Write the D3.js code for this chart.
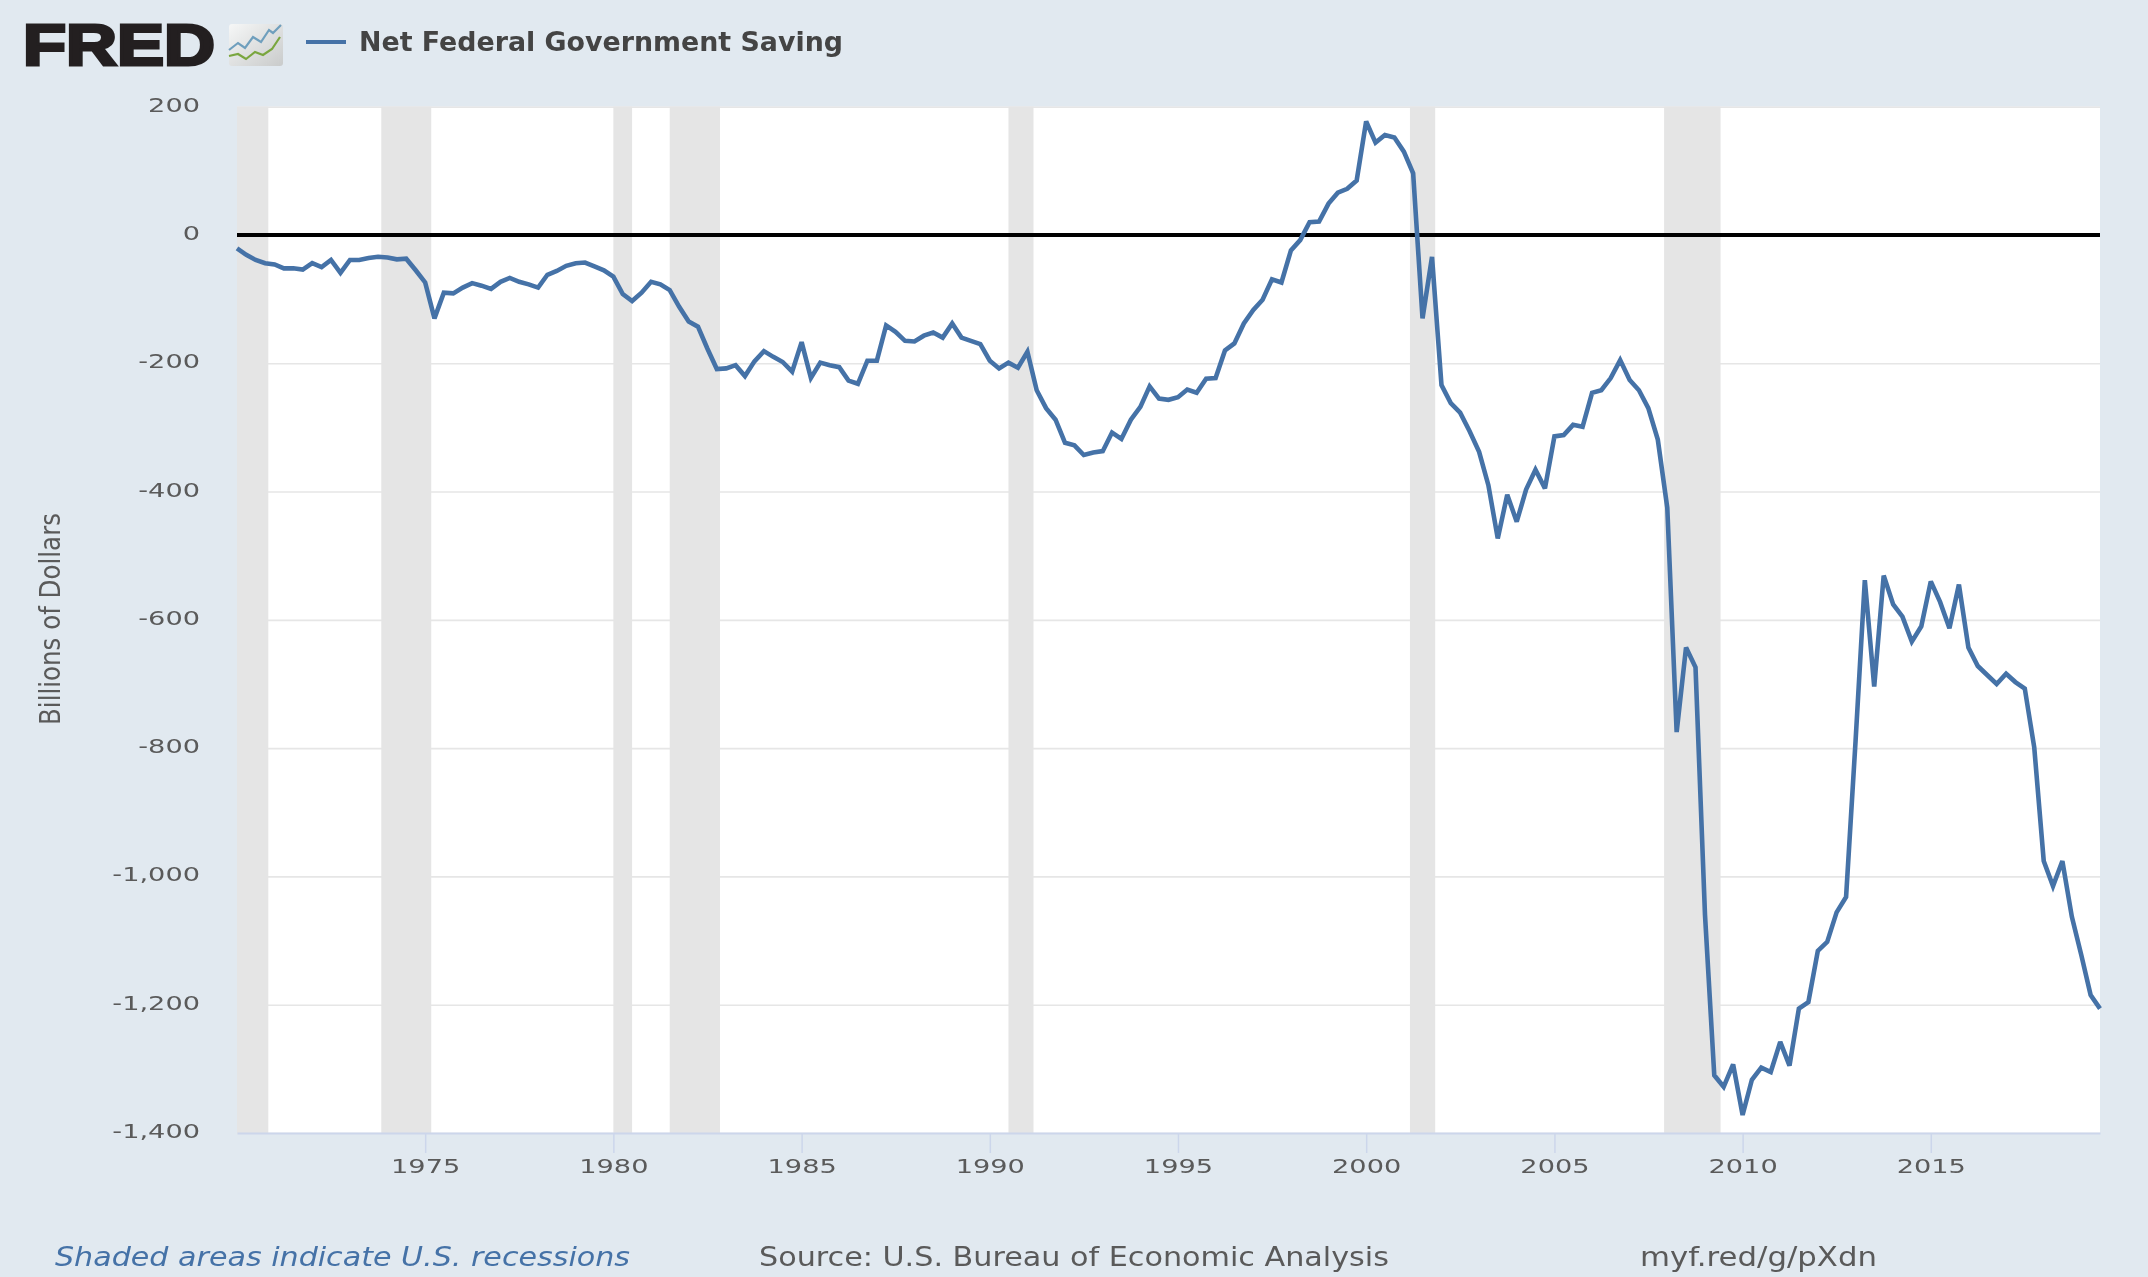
<!DOCTYPE html>
<html><head><meta charset="utf-8">
<script src="https://cdn.jsdelivr.net/npm/d3@7"></script>
<style>html,body{margin:0;padding:0;background:#e1e9f0}svg{display:block;filter:blur(.6px)}text{font-family:"DejaVu Sans",sans-serif}</style>
</head><body><svg id="c" width="2148" height="1277"></svg>
<script>
const seriesName = "Net Federal Government Saving";
const startQuarter = "1970-01-01";
const saving = [
-21,-31,-39,-44,-46,-52,-52,-54,-44,-50,-39,-59,-39,-39,-36,-34,-35,-38,-37,-55,
-74,-130,-90,-91,-82,-75,-79,-84,-73,-67,-73,-77,-82,-62,-56,-48,-44,-43,-49,-55,
-65,-92,-103,-90,-73,-77,-86,-112,-135,-143,-177,-209,-208,-203,-220,-197,-181,-190,-198,-213,
-167,-223,-199,-203,-206,-227,-232,-196,-196,-141,-151,-165,-166,-157,-152,-160,-138,-160,-165,-170,
-196,-208,-199,-207,-182,-242,-270,-288,-324,-328,-343,-339,-337,-308,-318,-288,-268,-236,-255,-257,
-253,-241,-246,-224,-223,-180,-169,-138,-117,-101,-69,-74,-24,-8,20,21,49,66,72,85,
177,144,156,152,130,96,-130,-34,-234,-262,-277,-306,-338,-390,-473,-405,-447,-397,-366,-395,
-314,-312,-296,-299,-246,-242,-223,-195,-226,-242,-270,-319,-425,-775,-643,-674,-1060,-1310,-1328,-1293,
-1372,-1317,-1298,-1305,-1258,-1295,-1206,-1196,-1116,-1102,-1056,-1032,-789,-538,-704,-531,-576,-595,-634,-610,
-540,-572,-613,-545,-643,-672,-686,-700,-684,-697,-707,-799,-976,-1015,-976,-1063,-1123,-1185,-1206];
const recessions = [["1969-12-01","1970-11-01"],["1973-11-01","1975-03-01"],["1980-01-01","1980-07-01"],
["1981-07-01","1982-11-01"],["1990-07-01","1991-03-01"],["2001-03-01","2001-11-01"],["2007-12-01","2009-06-01"]];
const yTicks = [200,0,-200,-400,-600,-800,-1000,-1200,-1400];
const xTickYears = [1975,1980,1985,1990,1995,2000,2005,2010,2015];
const yAxisTitle = "Billions of Dollars";
const footNotes = ["Shaded areas indicate U.S. recessions","Source: U.S. Bureau of Economic Analysis","myf.red/g/pXdn"];

const P = {l:237,r:2100,t:106.7,b:1133};
const BLUE="#4572a7", TXT="#5a5a5a";
const svg=d3.select("#c");
const dates=saving.map((_,i)=>d3.utcMonth.offset(new Date(startQuarter),i*3));
const x=d3.scaleUtc().domain([dates[0],dates[dates.length-1]]).range([P.l,P.r]);
const y=d3.scaleLinear().domain([200,-1400]).range([P.t,P.b]);
const stretch=function(k){return function(){
    const w=this.getComputedTextLength();
    this.setAttribute("textLength",w*k);this.setAttribute("lengthAdjust","spacingAndGlyphs");
}};

svg.append("rect").attr("width",2148).attr("height",1277).attr("fill","#e1e9f0");
svg.append("rect").attr("x",P.l).attr("y",P.t).attr("width",P.r-P.l).attr("height",P.b-P.t).attr("fill","#fff");

// horizontal grid + y labels via axis
const yFormat=v=>d3.format(",")(v).replace("\u2212","-");
const yAxis=d3.axisLeft(y).tickValues(yTicks).tickSize(-(P.r-P.l)).tickPadding(37).tickFormat(yFormat);
const gy=svg.append("g").attr("transform",`translate(${P.l},0)`).call(yAxis);
gy.select(".domain").remove();
gy.selectAll(".tick line").attr("stroke","#e6e6e6").attr("stroke-width",1.6);
gy.selectAll(".tick text").attr("fill",TXT).attr("font-size",20).attr("dy",0).attr("y",-1)
  .attr("dominant-baseline","middle").style("font-family",'"DejaVu Sans",sans-serif').each(stretch(1.36));

// recession bands
svg.append("g").selectAll("rect").data(recessions).join("rect")
 .attr("x",d=>Math.max(P.l,x(new Date(d[0])))).attr("y",P.t)
 .attr("width",d=>x(new Date(d[1]))-Math.max(P.l,x(new Date(d[0])))).attr("height",P.b-P.t).attr("fill","#e5e5e5");

// zero line
svg.append("line").attr("x1",P.l).attr("x2",P.r).attr("y1",y(0)).attr("y2",y(0)).attr("stroke","#000").attr("stroke-width",4);

// x axis
const xAxis=d3.axisBottom(x).tickValues(xTickYears.map(v=>new Date(Date.UTC(v,0,1)))).tickSize(20).tickSizeOuter(0).tickPadding(6).tickFormat(d3.utcFormat("%Y"));
const gx=svg.append("g").attr("transform",`translate(0,${P.b})`).call(xAxis);
gx.select(".domain").attr("stroke","#ccd6eb").attr("stroke-width",2);
gx.selectAll(".tick line").attr("stroke","#ccd6eb").attr("stroke-width",1.5);
gx.selectAll(".tick text").attr("fill",TXT).attr("font-size",20).style("font-family",'"DejaVu Sans",sans-serif').each(stretch(1.36));

// series
const line=d3.line().x((d,i)=>x(dates[i])).y(d=>y(d));
svg.append("path").datum(saving).attr("d",line).attr("fill","none").attr("stroke",BLUE).attr("stroke-width",4.6).attr("stroke-linejoin","miter").attr("stroke-miterlimit",3);

// axis title
svg.append("text").attr("transform","translate(60,619) rotate(-90)").attr("text-anchor","middle")
 .attr("font-size",28).attr("fill",TXT).attr("textLength",212).attr("lengthAdjust","spacingAndGlyphs").text(yAxisTitle);

// logo
const lg=svg.append("g");
lg.append("text").attr("x",23).attr("y",65).attr("font-size",58).attr("font-weight",900)
  .style("font-family",'"Liberation Sans",Arial,sans-serif').attr("fill","#231f20").attr("stroke","#231f20").attr("stroke-width",3)
  .attr("textLength",192).attr("lengthAdjust","spacingAndGlyphs").text("FRED");
const defs=svg.append("defs");
const g=defs.append("linearGradient").attr("id","ic").attr("x1",0).attr("y1",0).attr("x2",1).attr("y2",1);
g.append("stop").attr("offset",0).attr("stop-color","#f6f7f7");g.append("stop").attr("offset",1).attr("stop-color","#c9cbcb");
lg.append("rect").attr("x",229).attr("y",24).attr("width",54).attr("height",42).attr("rx",3).attr("fill","url(#ic)");
lg.append("path").attr("d","M229 50l9-7 7 5 8-11 8 5 8-12 4 3 8-8").attr("fill","none").attr("stroke","#6f9fbd").attr("stroke-width",2.2);
lg.append("path").attr("d","M229 56l9-2 8 5 9-7 8 3 9-6 8-12").attr("fill","none").attr("stroke","#7aa63f").attr("stroke-width",2.2);

// legend
svg.append("line").attr("x1",306).attr("x2",346).attr("y1",42).attr("y2",42).attr("stroke",BLUE).attr("stroke-width",4);
svg.append("text").attr("x",359).attr("y",51).attr("font-size",26).attr("font-weight",700).attr("fill","#444")
 .attr("textLength",484).attr("lengthAdjust","spacingAndGlyphs").text(seriesName);

// footer
const foot=[[55,575,BLUE,"italic"],[759,630,TXT,"normal"],[1640,237,TXT,"normal"]];
svg.append("g").selectAll("text").data(footNotes).join("text")
 .attr("x",(d,i)=>foot[i][0]).attr("y",1266).attr("font-size",26)
 .attr("fill",(d,i)=>foot[i][2]).attr("font-style",(d,i)=>foot[i][3])
 .attr("textLength",(d,i)=>foot[i][1]).attr("lengthAdjust","spacingAndGlyphs").text(d=>d);
</script></body></html>
